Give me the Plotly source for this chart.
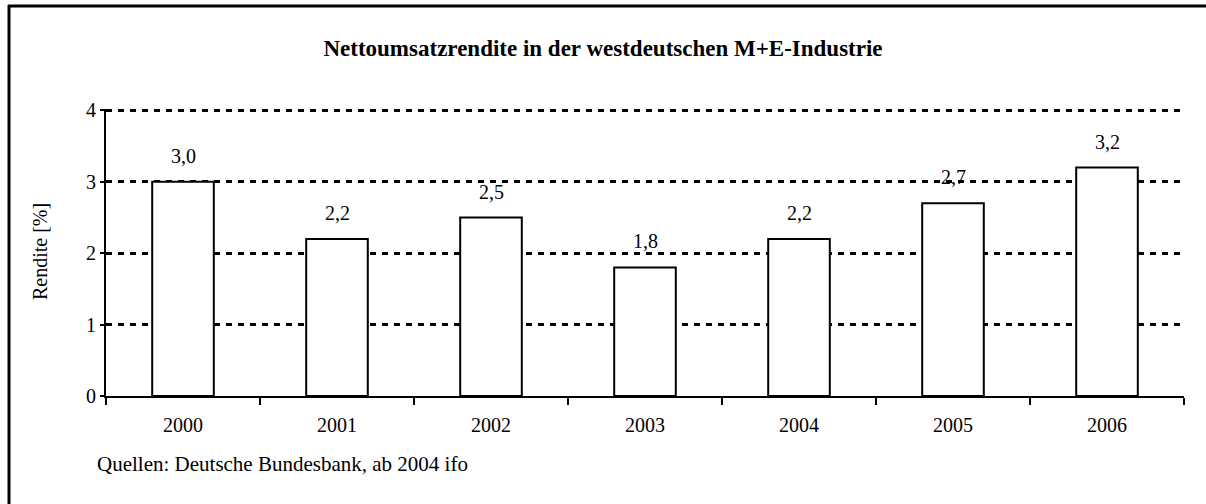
import plotly.graph_objects as go

years = ["2000", "2001", "2002", "2003", "2004", "2005", "2006"]
rendite = [3.0, 2.2, 2.5, 1.8, 2.2, 2.7, 3.2]
labels = [f"{v:.1f}".replace(".", ",") for v in rendite]
y_ticks = [0, 1, 2, 3, 4]

FONT = "Liberation Serif, Times New Roman, serif"

fig = go.Figure()
fig.add_trace(go.Bar(
    x=years, y=rendite, width=0.4,
    marker=dict(color="white", line=dict(color="black", width=2)),
    hoverinfo="skip", showlegend=False,
))

for i, (y, t) in enumerate(zip(rendite, labels)):
    fig.add_annotation(x=i, y=y, text=t, showarrow=False, xanchor="center",
                       yanchor="bottom", yshift=13,
                       font=dict(family=FONT, size=20, color="black"))

W, H = 1206, 504
YMAX = 4.02
L, R, B = 106, 22, 108
ph = round(286 * YMAX / 4)
T = H - B - ph
pw = W - L - R

def px_x(p):
    return (p - L) / pw

def px_y(p):
    return (H - B - p) / ph

# outer frame (top and left edges visible)
fig.add_shape(type="line", xref="paper", yref="paper",
              x0=px_x(8), x1=px_x(1206), y0=px_y(6), y1=px_y(6),
              line=dict(color="black", width=3))
fig.add_shape(type="line", xref="paper", yref="paper",
              x0=px_x(9), x1=px_x(9), y0=px_y(5), y1=px_y(504),
              line=dict(color="black", width=3))

fig.add_annotation(xref="paper", yref="paper", x=px_x(40), y=px_y(252),
                   text="Rendite [%]", textangle=-90, showarrow=False,
                   xanchor="center", yanchor="middle",
                   font=dict(family=FONT, size=20, color="black"))
fig.add_annotation(xref="paper", yref="paper", x=px_x(95), y=px_y(464),
                   text="Quellen: Deutsche Bundesbank, ab 2004 ifo", showarrow=False,
                   xanchor="left", yanchor="middle",
                   font=dict(family=FONT, size=21, color="black"))

fig.update_layout(
    width=W, height=H,
    margin=dict(l=L, r=R, t=T, b=B, autoexpand=False),
    paper_bgcolor="white", plot_bgcolor="white",
    title=dict(text="<b>Nettoumsatzrendite in der westdeutschen M+E-Industrie</b>",
               x=0.5, xanchor="center", y=1 - 48 / H, yanchor="middle",
               font=dict(family=FONT, size=23, color="black")),
    font=dict(family=FONT, size=20, color="black"),
)
fig.update_xaxes(
    type="category", automargin=False, range=[-0.5, len(years) - 0.5],
    showline=True, linecolor="black", linewidth=2,
    ticks="outside", ticklen=7, tickwidth=2, tickcolor="black",
    tickson="boundaries", showgrid=False, tickangle=0, ticklabelstandoff=10,
    tickfont=dict(family=FONT, size=20, color="black"),
)
fig.update_yaxes(
    automargin=False,
    range=[0, YMAX], tickvals=y_ticks, showline=True, linecolor="black", linewidth=2,
    ticks="outside", ticklen=4, tickwidth=2, tickcolor="black",
    showgrid=True, gridcolor="black", gridwidth=3, griddash="6px,6px",
    zeroline=False,
    tickfont=dict(family=FONT, size=20, color="black"),
)

fig.write_html("out.html", config={"displayModeBar": False},
               post_script="document.body.style.margin='0';document.body.style.overflow='hidden';")
